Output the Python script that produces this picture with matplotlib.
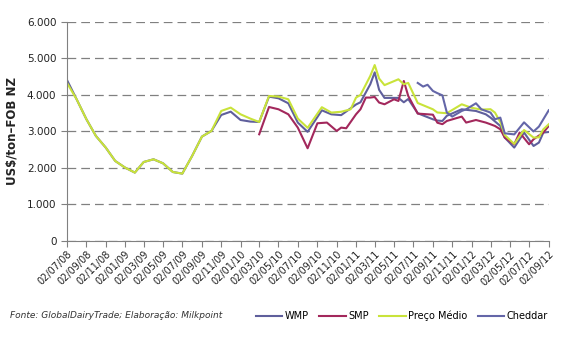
import numpy as np
import pandas as pd
import matplotlib
matplotlib.use('Agg')
import matplotlib.pyplot as plt
import matplotlib.dates as mdates
from matplotlib.ticker import FuncFormatter

## Dados (US$/ton FOB NZ)
# leiloes mensais ate ago/10, depois quinzenais (NaN = sem leitura)
monthly_dates = pd.date_range('2008-07-01', '2010-08-01', freq='MS') + pd.Timedelta(days=1)

wmp_monthly = [4420, 3882, 3334, 2877, 2559, 2192, 2011, 1874, 2164, 2238, 2129, 1890, 1846,
               2329, 2860, 3014, 3452, 3543, 3315, 3271, 3260, 3955, 3909, 3772, 3244, 2990]
pm_monthly = [4340, 3882, 3334, 2877, 2559, 2192, 2011, 1874, 2164, 2238, 2129, 1890, 1846,
              2329, 2860, 3014, 3562, 3654, 3471, 3353, 3260, 3973, 3955, 3882, 3353, 3100]
smp_monthly = [np.nan] * 20 + [2923, 3671, 3608, 3471, 3106, 2540]

# quinzenal: k = 0 -> 02/09/10, k = 48 -> 02/09/12
wmp_biweekly = {1: 3580, 3: 3470, 5: 3448, 8: 3740, 9: 3800, 11: 4293, 12: 4620, 13: 4140,
                14: 3920, 17: 3920, 18: 3800, 19: 3890, 21: 3500, 22: 3440, 24: 3334, 25: 3300,
                26: 3288, 27: 3430, 30: 3608, 33: 3562, 35: 3471, 36: 3380, 38: 3151, 39: 2833,
                41: 2559, 43: 2970, 45: 2603, 46: 2696, 47: 2970, 48: 2986}
smp_biweekly = {0: 3225, 2: 3244, 4: 3014, 5: 3106, 6: 3088, 8: 3471, 9: 3608, 10: 3929,
                11: 3929, 12: 3945, 13: 3792, 14: 3745, 16: 3882, 17: 3836, 18: 4384, 19: 3973,
                21: 3490, 23: 3471, 24: 3460, 25: 3240, 26: 3200, 27: 3288, 30: 3408, 31: 3244,
                33: 3315, 35: 3244, 36: 3197, 37: 3151, 38: 3060, 39: 2833, 41: 2649, 42: 2970,
                44: 2649, 45: 2786, 47: 2970, 48: 3151}
pm_biweekly = {1: 3665, 3: 3518, 5: 3540, 7: 3608, 8: 3929, 9: 4000, 11: 4521, 12: 4820,
               13: 4450, 14: 4270, 17: 4430, 18: 4293, 19: 4330, 21: 3780, 24: 3608, 25: 3520,
               27: 3500, 30: 3745, 32: 3650, 34: 3600, 36: 3610, 37: 3518, 38: 3260, 39: 2900,
               41: 2660, 43: 3040, 45: 2833, 46: 2840, 47: 3060, 48: 3197}
cheddar_biweekly = {21: 4330, 22: 4230, 23: 4280, 24: 4110, 25: 4050, 26: 3990, 27: 3518,
                    28: 3408, 30: 3562, 31: 3608, 33: 3772, 34: 3608, 36: 3518, 37: 3334,
                    38: 3380, 39: 2950, 41: 2920, 43: 3250, 45: 3000, 46: 3134, 48: 3580}

series_names = ['WMP', 'SMP', 'Preço Médio', 'Cheddar']
colors = ['#5F5F9C', '#A3285C', '#C9E33A', '#6466A8']

# monta a tabela
k_all = np.arange(49)
biweekly_dates = [pd.Timestamp(2010 + (8 + k // 2) // 12, (8 + k // 2) % 12 + 1, 2 if k % 2 == 0 else 16)
                  for k in k_all]
dates = list(monthly_dates) + biweekly_dates


def column(monthly, biweekly):
    return list(monthly) + [biweekly.get(k, np.nan) for k in k_all]


df = pd.DataFrame({
    'WMP': column(wmp_monthly, wmp_biweekly),
    'SMP': column(smp_monthly, smp_biweekly),
    'Preço Médio': column(pm_monthly, pm_biweekly),
    'Cheddar': column([np.nan] * len(monthly_dates), cheddar_biweekly),
}, index=pd.DatetimeIndex(dates))

## Grafico
fig = plt.figure(figsize=(5.71, 3.38), dpi=100)
ax = fig.add_axes([0.117, 0.287, 0.844, 0.648])

for name, c in zip(series_names, colors):
    s = df[name].dropna()
    ax.plot(s.index, s.values, color=c, lw=1.5, label=name, solid_joinstyle='round')

ax.set_ylim(0, 6000)
ax.set_yticks(range(0, 6001, 1000))
ax.yaxis.set_major_formatter(FuncFormatter(lambda v, p: '{:,.0f}'.format(v).replace(',', '.')))
ax.grid(axis='y', color='#808080', linestyle=(0, (7, 4)), lw=0.9)
ax.set_axisbelow(True)

ax.set_xlim(pd.Timestamp('2008-07-02'), pd.Timestamp('2012-09-02'))
ticks = pd.date_range('2008-07-01', '2012-09-01', freq='2MS') + pd.Timedelta(days=1)
ax.set_xticks(ticks)
ax.xaxis.set_major_formatter(mdates.DateFormatter('%d/%m/%y'))
plt.setp(ax.get_xticklabels(), rotation=45, ha='right', rotation_mode='anchor')

for side in ['top', 'right']:
    ax.spines[side].set_visible(False)
for side in ['left', 'bottom']:
    ax.spines[side].set_color('#808080')
ax.tick_params(axis='both', colors='#808080', labelcolor='#222222', labelsize=7.5, length=4, width=0.8)
ax.tick_params(axis='x', labelsize=7, pad=2)

ax.set_ylabel('US$/ton–FOB NZ', fontsize=8.5, fontweight='bold', color='#222222', labelpad=6)

fig.text(0.018, 1 - 316 / 338, 'Fonte: GlobalDairyTrade; Elaboração: Milkpoint',
         fontsize=6.5, style='italic', color='#333333', va='center')

fig.legend(loc='center left', bbox_to_anchor=(0.448, 1 - 316 / 338), ncol=4, frameon=False,
           fontsize=7, handlelength=2.7, handletextpad=0.25, columnspacing=1.1, borderaxespad=0,
           borderpad=0)

fig.savefig('out.png', dpi=100)
